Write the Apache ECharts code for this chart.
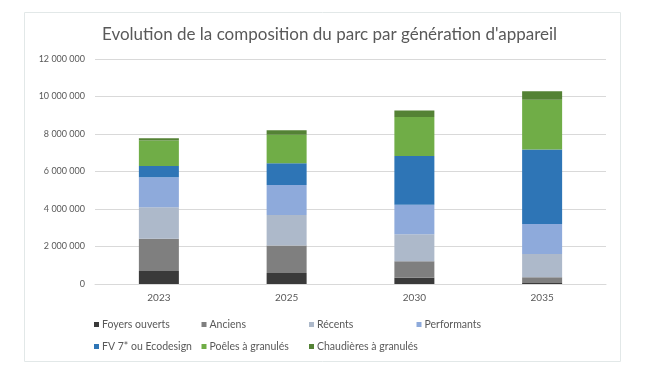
<!DOCTYPE html>
<html><head><meta charset="utf-8">
<script src="https://cdn.jsdelivr.net/npm/echarts@6/dist/echarts.min.js"></script>
<style>html,body{margin:0;padding:0;background:#fff}#c{width:659px;height:369px}</style>
</head><body><div id="c"></div>
<script>
const categories = ['2023', '2025', '2030', '2035'];
const seriesNames = ['Foyers ouverts', 'Anciens', 'Récents', 'Performants', 'FV 7* ou Ecodesign', 'Poêles à granulés', 'Chaudières à granulés'];
const foyersOuverts = [700000, 590000, 340000, 50000];
const anciens = [1710000, 1470000, 870000, 310000];
const recents = [1690000, 1620000, 1440000, 1240000];
const performants = [1600000, 1600000, 1580000, 1600000];
const fv7Ecodesign = [600000, 1160000, 2600000, 3980000];
const poelesGranules = [1350000, 1520000, 2080000, 2650000];
const chaudieresGranules = [130000, 240000, 340000, 450000];
const yTicks = [0, 2000000, 4000000, 6000000, 8000000, 10000000, 12000000];

const values = [foyersOuverts, anciens, recents, performants, fv7Ecodesign, poelesGranules, chaudieresGranules];
const colors = ['#3a3a3a', '#7f7f7f', '#adb9ca', '#8eaadb', '#2e75b6', '#70ad47', '#548235'];
const FONT = 'Lato';

function fmt(v){ return String(v).replace(/\B(?=(\d{3})+(?!\d))/g, ' '); }

const chart = echarts.init(document.getElementById('c'), null, {renderer: 'canvas'});
const legends = seriesNames.map((n, i) => ({
  data: [n], orient: 'horizontal', itemWidth: 5, itemHeight: 5, icon: 'rect', padding: 0,
  left: 94 + (i % 4) * 107.5, top: i < 4 ? 319 : 341,
  textStyle: {fontFamily: FONT, fontSize: 10.5, color: '#595959', padding: [0, 0, 0, -2]},
  selectedMode: false
}));
chart.setOption({
  backgroundColor: '#fff',
  animation: false,
  color: colors,
  title: {
    text: 'Evolution de la composition du parc par génération d\'appareil',
    left: 'center', top: 21,
    textStyle: {fontFamily: FONT, fontSize: 17, fontWeight: 'normal', color: '#595959'}
  },
  graphic: [{type: 'rect', shape: {x: 24.5, y: 12.5, width: 596, height: 349}, style: {fill: 'none', stroke: '#e2e8e8', lineWidth: 1}, silent: true, z: -1}],
  legend: legends,
  grid: {left: 95, right: 53, top: 59, bottom: 85, containLabel: false},
  xAxis: {
    type: 'category', data: categories,
    axisLine: {lineStyle: {color: '#d9d9d9'}}, axisTick: {show: false},
    axisLabel: {fontFamily: FONT, fontSize: 10, color: '#595959', margin: 9}
  },
  yAxis: {
    type: 'value', min: yTicks[0], max: yTicks[yTicks.length - 1], interval: yTicks[1] - yTicks[0],
    axisLine: {show: false}, axisTick: {show: false},
    splitLine: {lineStyle: {color: '#d9d9d9'}},
    axisLabel: {fontFamily: FONT, fontSize: 9, color: '#595959', margin: 10, formatter: fmt}
  },
  series: seriesNames.map((n, i) => ({
    name: n, type: 'bar', stack: 'total', data: values[i], barWidth: 40,
    itemStyle: {color: colors[i]}
  }))
});
</script></body></html>
